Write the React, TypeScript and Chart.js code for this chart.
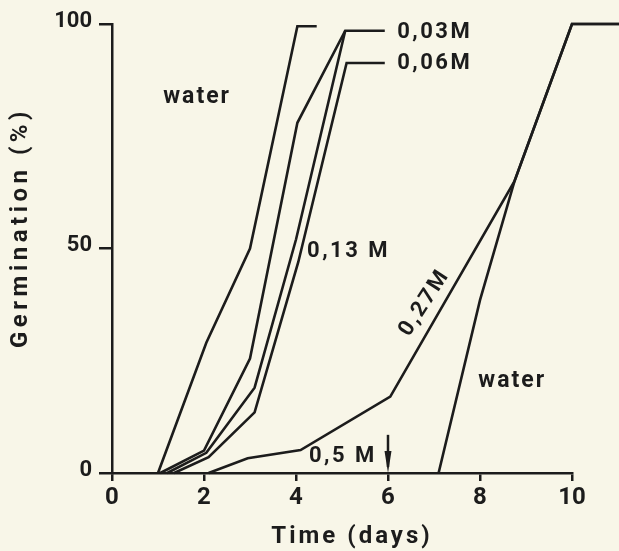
import React, { useEffect, useRef } from "react";
import { Chart, registerables } from "chart.js";

Chart.register(...registerables);

// ---- data (days, germination %) ----
const WATER_X = [1, 2.05, 3, 4.03, 4.45];
const WATER_Y = [0, 29, 50, 99.5, 99.5];

const M003_X = [1.05, 2, 3, 4.03, 5.07, 5.93];
const M003_Y = [0, 5, 25.5, 78, 98.5, 98.5];

const M006_X = [1.35, 2.1, 3.1, 4.05, 5.1, 5.93];
const M006_Y = [0, 3.5, 13.5, 47, 91.3, 91.3];

const M013_X = [1.2, 2.05, 3.1, 4, 5.07];
const M013_Y = [0, 4.5, 19, 52, 98.5];

const M027_X = [2.1, 2.95, 4.1, 6.05, 8.75, 10, 11.1];
const M027_Y = [0, 3.3, 5.1, 17, 65, 100, 100];

const WATER2_X = [7.1, 8, 8.75, 10, 11.1];
const WATER2_Y = [0, 38.5, 65, 100, 100];

const X_TICK_STEP = 2;
const Y_TICK_STEP = 50;

// annotation texts (data coordinates)
const LABEL_TEXTS = ["water", "0,03M", "0,06M", "0,13 M", "0,27M", "water", "0,5 M"];
const LABEL_X = [1.85, 6.2, 6.2, 4.24, 6.8, 8.7, 5.02];
const LABEL_Y = [83.7, 98.2, 91.1, 49.4, 37.9, 20.5, 3.6];
const LABEL_ALIGN = ["center", "left", "left", "left", "center", "center", "center"];
const LABEL_ANGLE = [0, 0, 0, 0, -57, 0, 0];

const ARROW_X = 6;
const ARROW_TOP = 8.5;

const BG = "#f8f6e8";
const INK = "#1c1c1c";
const FONT = "Roboto, 'DejaVu Sans', sans-serif";

const pts = (xs: number[], ys: number[]) => xs.map((x, i) => ({ x, y: ys[i] }));

const annotPlugin = {
  id: "annot",
  beforeDraw(chart: any) {
    const { ctx, width, height } = chart;
    ctx.save();
    ctx.fillStyle = BG;
    ctx.fillRect(0, 0, width, height);
    ctx.restore();
  },
  afterDatasetsDraw(chart: any) {
    const { ctx, chartArea } = chart;
    const xs = chart.scales.x;
    const ys = chart.scales.y;
    ctx.save();
    ctx.fillStyle = INK;
    ctx.strokeStyle = INK;
    ctx.textBaseline = "middle";
    LABEL_TEXTS.forEach((t, i) => {
      ctx.save();
      ctx.translate(xs.getPixelForValue(LABEL_X[i]), ys.getPixelForValue(LABEL_Y[i]));
      ctx.rotate((LABEL_ANGLE[i] * Math.PI) / 180);
      ctx.textAlign = LABEL_ALIGN[i] as CanvasTextAlign;
      if (t === "water") {
        (ctx as any).letterSpacing = "2px";
        ctx.font = `bold 23px ${FONT}`;
      } else {
        (ctx as any).letterSpacing = "2.5px";
        ctx.font = `bold 22px ${FONT}`;
      }
      ctx.fillText(t, 0, 0);
      ctx.restore();
    });
    // arrow at x = 6
    const ax = xs.getPixelForValue(ARROW_X);
    const aTop = ys.getPixelForValue(ARROW_TOP);
    const aBot = ys.getPixelForValue(0);
    ctx.lineWidth = 2.5;
    ctx.beginPath();
    ctx.moveTo(ax, aTop);
    ctx.lineTo(ax, aBot - 6);
    ctx.stroke();
    ctx.beginPath();
    ctx.moveTo(ax - 3.5, aBot - 22);
    ctx.lineTo(ax + 3.5, aBot - 22);
    ctx.lineTo(ax, aBot);
    ctx.closePath();
    ctx.fill();
    // axis titles
    (ctx as any).letterSpacing = "3px";
    ctx.font = `bold 24px ${FONT}`;
    ctx.textAlign = "center";
    ctx.textBaseline = "middle";
    ctx.fillText("Time (days)", (chartArea.left + chartArea.right) / 2 + 10, chartArea.bottom + 64);
    ctx.save();
    (ctx as any).letterSpacing = "4.5px";
    ctx.translate(21, (chartArea.top + chartArea.bottom) / 2 - 21);
    ctx.rotate(-Math.PI / 2);
    ctx.fillText("Germination (%)", 0, 0);
    ctx.restore();
    ctx.restore();
  },
};

export default function App() {
  const ref = useRef<HTMLCanvasElement | null>(null);
  useEffect(() => {
    if (!ref.current) return;
    const line = (xs: number[], ys: number[]) => ({
      data: pts(xs, ys),
      borderColor: INK,
      borderWidth: 2.6,
      pointRadius: 0,
      tension: 0,
      fill: false,
      clip: false as any,
    });
    const chart = new Chart(ref.current, {
      type: "line",
      data: {
        datasets: [
          line(WATER_X, WATER_Y),
          line(M003_X, M003_Y),
          line(M006_X, M006_Y),
          line(M013_X, M013_Y),
          line(M027_X, M027_Y),
          line(WATER2_X, WATER2_Y),
        ] as any,
      },
      options: {
        animation: false,
        responsive: false,
        maintainAspectRatio: false,
        devicePixelRatio: 1,
        layout: { padding: { top: 24, right: 47, bottom: 0, left: 0 } },
        plugins: { legend: { display: false }, tooltip: { enabled: false } },
        scales: {
          x: {
            type: "linear",
            afterDataLimits(s: any) {
              s.min = 0;
              s.max = 10;
            },
            afterFit(s: any) {
              s.height = 78;
            },
            ticks: {
              stepSize: X_TICK_STEP,
              color: INK,
              padding: 3,
              maxRotation: 0,
              font: { family: FONT, size: 24, weight: "bold" },
            },
            grid: { drawOnChartArea: false, drawTicks: true, tickLength: 8, color: INK, lineWidth: 2.5 },
            border: { display: true, color: INK, width: 2.5 },
          },
          y: {
            min: 0,
            max: 100,
            afterFit(s: any) {
              s.width = 112;
            },
            ticks: {
              stepSize: Y_TICK_STEP,
              color: INK,
              padding: 7,
              labelOffset: -3,
              font: { family: FONT, size: 22, weight: "bold" },
            },
            grid: { drawOnChartArea: false, drawTicks: true, tickLength: 13, color: INK, lineWidth: 2.5 },
            border: { display: true, color: INK, width: 2.5 },
          },
        },
      } as any,
      plugins: [annotPlugin],
    });
    return () => chart.destroy();
  }, []);
  return (
    <div style={{ position: "absolute", left: 0, top: 0, width: 619, height: 551, background: BG }}>
      <canvas ref={ref} width={619} height={551} style={{ display: "block", width: 619, height: 551 }} />
    </div>
  );
}
